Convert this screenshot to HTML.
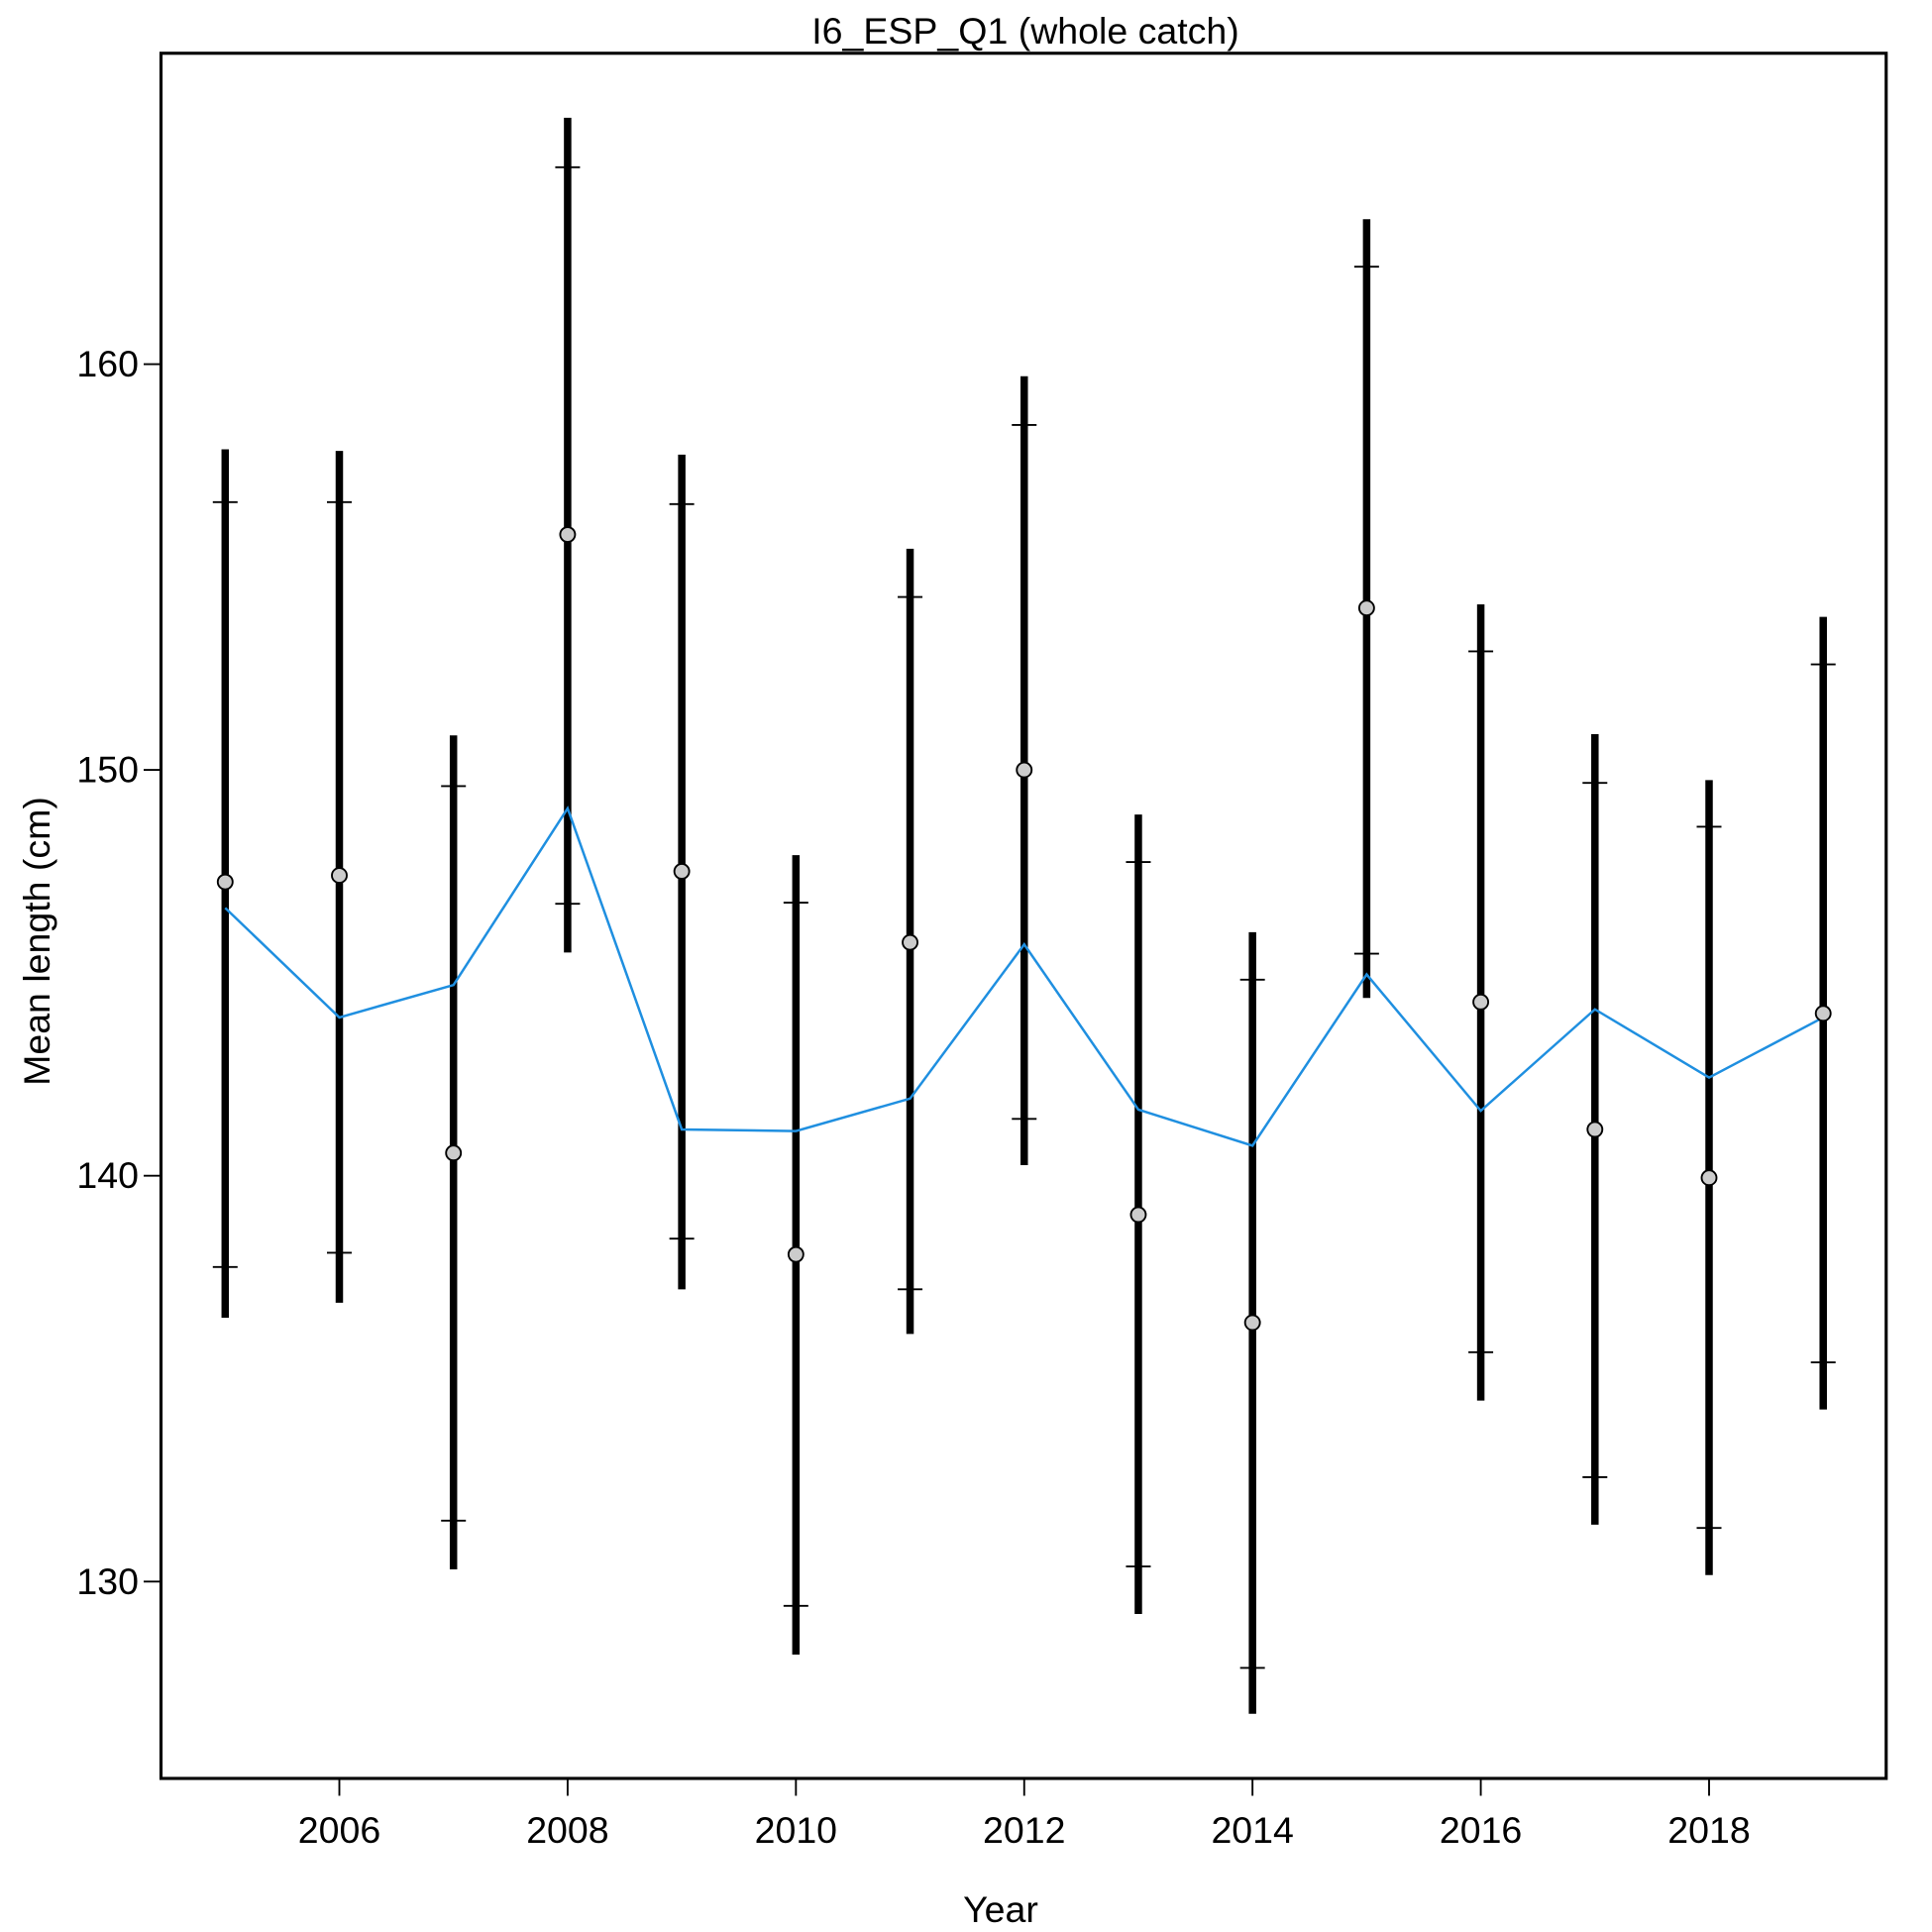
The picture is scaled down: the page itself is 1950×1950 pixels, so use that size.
<!DOCTYPE html>
<html><head><meta charset="utf-8"><style>html,body{margin:0;padding:0;background:#fff}svg{display:block}</style></head>
<body>
<svg id="chart" xmlns="http://www.w3.org/2000/svg" width="1950" height="1950" viewBox="0 0 1560 1560" font-family="Liberation Sans, Arial, sans-serif">
<rect width="1560" height="1560" fill="#fff"/>
<text x="828" y="35" font-size="30" text-anchor="middle">I6_ESP_Q1 (whole catch)</text>
<rect x="130" y="43" width="1393" height="1393" fill="none" stroke="#000" stroke-width="2.5"/>
<g id="xaxis"></g>
<g id="yaxis"></g>
<g id="marks"></g>
<text x="808" y="1552" font-size="30" text-anchor="middle">Year</text>
<text transform="translate(40,760) rotate(-90)" font-size="30" text-anchor="middle">Mean length (cm)</text>
</svg>
<script>
const years = [2005,2006,2007,2008,2009,2010,2011,2012,2013,2014,2015,2016,2017,2018,2019];
const observed = [147.24,147.4,140.56,155.8,147.5,138.06,145.75,150.0,139.04,136.38,153.99,144.28,141.14,139.95,144.0];
const expected = [146.6,143.9,144.7,149.05,141.14,141.1,141.9,145.7,141.63,140.74,144.96,141.6,144.1,142.42,143.9];
const outerHi = [157.9,157.86,150.85,166.07,157.77,147.9,155.45,159.7,148.9,146.0,163.57,154.08,150.88,149.75,153.77];
const outerLo = [136.5,136.87,130.3,145.5,137.2,128.2,136.1,140.26,129.2,126.74,144.38,134.46,131.4,130.16,134.24];
const innerHi = [156.6,156.6,149.6,164.85,156.55,146.73,154.26,158.5,147.73,144.83,162.4,152.92,149.68,148.6,152.6];
const innerLo = [137.75,138.1,131.5,146.7,138.45,129.4,137.2,141.4,130.37,127.87,145.47,135.65,132.57,131.32,135.4];
const xTicks = [2006,2008,2010,2012,2014,2016,2018];
const yTicks = [130,140,150,160];

const NS = "http://www.w3.org/2000/svg";
function X(v){ return 274 + (v - 2006) * (1380 - 274) / 12; }
function Y(v){ return 294 + (160 - v) * (1277 - 294) / 30; }
function mk(tag, attrs, parent){ const e = document.createElementNS(NS, tag); for (const k in attrs) e.setAttribute(k, attrs[k]); parent.appendChild(e); return e; }

const xg = document.getElementById('xaxis');
xTicks.forEach(t => {
  const l = mk('line', {x1:X(t), x2:X(t), y1:1436, y2:1450, stroke:'#000', 'stroke-width':1.5}, xg);
  
  
  const tx = mk('text', {x:X(t), y:1488, 'font-size':30, 'text-anchor':'middle'}, xg);
  tx.textContent = t;
  
  
});
const yg = document.getElementById('yaxis');
yTicks.forEach(t => {
  const l = mk('line', {x1:116, x2:130, y1:Y(t), y2:Y(t), stroke:'#000', 'stroke-width':1.5}, yg);
  
  
  const tx = mk('text', {x:112, y:Y(t)+10, 'font-size':30, 'text-anchor':'end'}, yg);
  tx.textContent = t;
  
  
});

const mg = document.getElementById('marks');
years.forEach((yr, i) => {
  const b = mk('line', {x1:X(yr), x2:X(yr), y1:Y(outerHi[i]), y2:Y(outerLo[i]), stroke:'#000', 'stroke-width':6}, mg);
  
  
  [innerHi[i], innerLo[i]].forEach(v => {
    const t = mk('line', {x1:X(yr)-10, x2:X(yr)+10, y1:Y(v), y2:Y(v), stroke:'#000', 'stroke-width':1.5}, mg);
    
    
  });
});
const pts = years.map((yr, i) => X(yr) + ',' + Y(expected[i])).join(' ');
const pl = mk('polyline', {points:pts, fill:'none', stroke:'#1f8fe0', 'stroke-width':2}, mg);


years.forEach((yr, i) => {
  const c = mk('circle', {cx:X(yr), cy:Y(observed[i]), r:6, fill:'#cccccc', stroke:'#000', 'stroke-width':1.5}, mg);
  
  
});
</script>
</body></html>
